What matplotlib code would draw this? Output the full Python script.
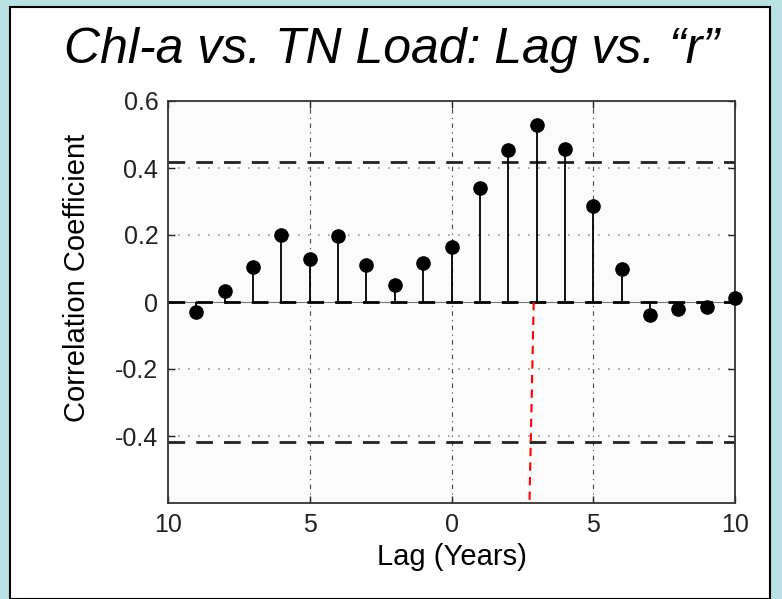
import numpy as np
import matplotlib
matplotlib.use('Agg')
from matplotlib import pyplot as plt
from matplotlib.patches import Rectangle

# lag (years) and correlation values
lags = [-9, -8, -7, -6, -5, -4, -3, -2, -1, 0, 1, 2, 3, 4, 5, 6, 7, 8, 9, 10]
r_vals = [-0.03, 0.033, 0.103, 0.20, 0.128, 0.197, 0.11, 0.05, 0.117, 0.163,
          0.34, 0.454, 0.528, 0.457, 0.287, 0.098, -0.04, -0.02, -0.014, 0.013]
conf_level = 0.418
red_x = [2.9, 2.75]
red_y = [0.0, -0.6]
xticks = [-10, -5, 0, 5, 10]
xtick_labels = ['10', '5', '0', '5', '10']
yticks = [-0.4, -0.2, 0, 0.2, 0.4, 0.6]
ytick_labels = ['-0.4', '-0.2', '0', '0.2', '0.4', '0.6']

plt.rcParams['font.family'] = ['Liberation Sans', 'DejaVu Sans']

fig = plt.figure(figsize=(7.82, 5.99), dpi=100)
fig.patch.set_facecolor('#b9e0e3')

# white slide panel with black border
W, H = 782.0, 599.0
panel = Rectangle((10 / W, 0), 760 / W, (H - 7) / H, transform=fig.transFigure,
                  facecolor='white', edgecolor='black', linewidth=1.5, zorder=-10)
fig.patches.append(panel)

ax = fig.add_axes([168 / W, 1 - 503 / H, (735 - 168) / W, (503 - 101) / H])
ax.set_zorder(5)
ax.set_facecolor('#fbfbfb')

ax.set_xlim(-10, 10)
ax.set_ylim(-0.6, 0.6)

# grid: dotted horizontal, dash-dot vertical
for yv in [-0.4, -0.2, 0.2, 0.4]:
    ax.axhline(yv, color='#999999', linestyle=(0, (1, 5)), linewidth=1.2, zorder=1)
for xv in [-5, 0, 5]:
    ax.axvline(xv, color='#444444', linestyle=(0, (4, 4, 1, 4)), linewidth=0.8, zorder=1)

# zero line and confidence bounds
ax.axhline(0, color='#777777', linewidth=0.8, zorder=2)
ax.axhline(0, color='black', linestyle=(0, (6, 4)), linewidth=2, zorder=2)
ax.axhline(conf_level, color='#222222', linestyle=(0, (6, 4)), linewidth=2, zorder=2)
ax.axhline(-conf_level, color='#222222', linestyle=(0, (6, 4)), linewidth=2, zorder=2)

# stems
markerline, stemlines, baseline = ax.stem(lags, r_vals, basefmt=' ')
plt.setp(stemlines, color='black', linewidth=1.3)
plt.setp(markerline, color='black', marker='o', markersize=9.5)
stemlines.set_zorder(3)
markerline.set_zorder(4)
markerline.set_clip_on(False)

# red dashed marker line
ax.plot(red_x, red_y, color='red', linestyle=(0, (4, 3)), linewidth=1.5, zorder=3)

ax.set_xticks(xticks)
ax.set_xticklabels(xtick_labels)
ax.set_yticks(yticks)
ax.set_yticklabels(ytick_labels)
ax.tick_params(direction='in', length=5, width=1, labelsize=18, colors='#222222',
               top=True, right=True, pad=7)
for s in ax.spines.values():
    s.set_linewidth(1.3)
    s.set_color('#333333')

ax.set_xlabel('Lag (Years)', fontsize=21, va='top')
ax.xaxis.set_label_coords(0.5, -0.1)
ax.set_ylabel('Correlation Coefficient', fontsize=21)
ax.yaxis.set_label_coords(-0.135, 0.56)

fig.text(64 / W, 1 - 50 / H, 'Chl-a vs. TN Load: Lag vs. \u201cr\u201d', fontsize=36,
         style='italic', ha='left', va='center')

fig.savefig('out.png', dpi=100, facecolor=fig.get_facecolor())
